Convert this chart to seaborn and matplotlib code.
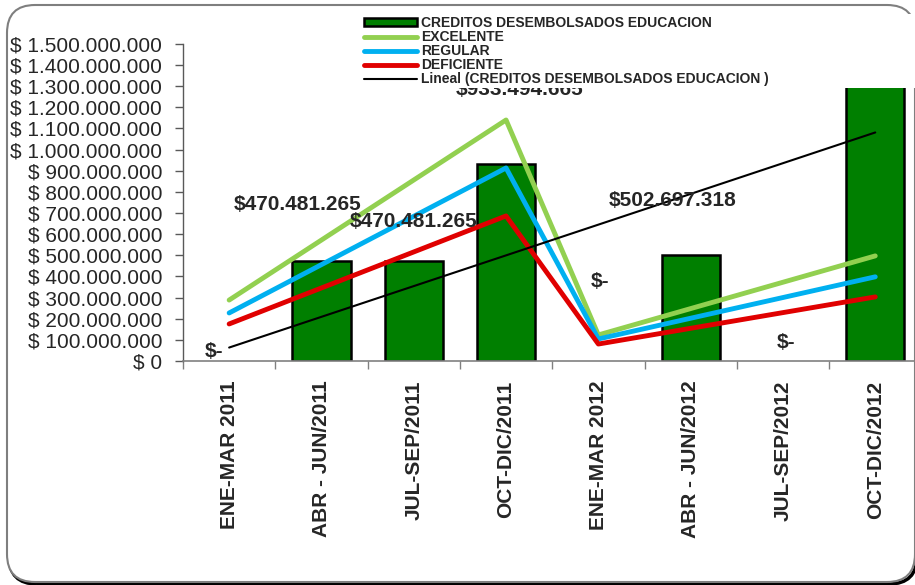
import numpy as np
import pandas as pd
import matplotlib.pyplot as plt
import seaborn as sns
from matplotlib.patches import FancyBboxPatch
from matplotlib.transforms import IdentityTransform
from matplotlib.ticker import FuncFormatter

# Chart data
periodos = ['ENE-MAR 2011', 'ABR - JUN/2011', 'JUL-SEP/2011', 'OCT-DIC/2011',
            'ENE-MAR 2012', 'ABR - JUN/2012', 'JUL-SEP/2012', 'OCT-DIC/2012']
creditos = [0, 470481265, 470481265, 933494665, 0, 502697318, 0, 2200000000]

# indicator lines only have points at these periods
idx_ind = [0, 3, 4, 7]
excelente = [288000000, 1140000000, 123000000, 497000000]
regular = [227000000, 913000000, 104000000, 398000000]
deficiente = [175000000, 686000000, 80000000, 303000000]

# data labels as shown (text, x, y)
etiquetas = ['$-', '$470.481.265', '$470.481.265', '$933.494.665',
             '$-', '$502.697.318', '$-']
etiq_x = [-0.16, 0.74, 2.0, 3.15, 4.02, 4.8, 6.03]
etiq_y = [47000000, 738000000, 658000000, 1285000000, 374000000, 757000000, 85000000]

sns.set_style('white')
plt.rcParams['font.family'] = ['Liberation Sans', 'DejaVu Sans']

fig = plt.figure(figsize=(9.15, 5.85), dpi=100)

# rounded frame around the whole chart
shadow = FancyBboxPatch((9, 1), 908, 577, boxstyle='round,pad=0,rounding_size=28',
                        transform=IdentityTransform(), facecolor='none',
                        edgecolor='black', lw=2.5, zorder=0)
frame = FancyBboxPatch((7, 3), 908, 577, boxstyle='round,pad=0,rounding_size=28',
                       transform=IdentityTransform(), facecolor='white',
                       edgecolor='#7f7f7f', lw=1.5, zorder=0)
fig.patches.extend([shadow, frame])

ax = fig.add_axes([0.2, 0.383, 0.807, 0.542])
ax.set_zorder(2)
ax.patch.set_alpha(0)

df = pd.DataFrame({'periodo': periodos, 'creditos': creditos})
sns.barplot(data=df, x='periodo', y='creditos', color='#007f00', saturation=1,
            width=0.63, edgecolor='black', linewidth=1.8,
            label='CREDITOS DESEMBOLSADOS EDUCACION', ax=ax)

sns.lineplot(x=idx_ind, y=excelente, color='#92d050', lw=3.5, label='EXCELENTE', ax=ax)
sns.lineplot(x=idx_ind, y=regular, color='#00b0f0', lw=3.5, label='REGULAR', ax=ax)
sns.lineplot(x=idx_ind, y=deficiente, color='#e00000', lw=3.5, label='DEFICIENTE', ax=ax)
sns.regplot(x=np.arange(len(creditos)), y=np.array(creditos, dtype=float), scatter=False,
            ci=None, truncate=True, color='black', line_kws={'lw': 1.5},
            label='Lineal (CREDITOS DESEMBOLSADOS EDUCACION )', ax=ax)

for t, x, y in zip(etiquetas, etiq_x, etiq_y):
    ax.text(x, y, t, ha='center', va='center', fontsize=15, fontweight='bold', zorder=3)

ax.set_xlim(-0.5, 7.5)
ax.set_ylim(0, 1500000000)
ax.set_yticks(np.arange(0, 1500000001, 100000000))


def fmt_peso(v, pos):
    if v == 0:
        return '$ 0'
    return '$ ' + f'{int(v):,}'.replace(',', '.')


ax.yaxis.set_major_formatter(FuncFormatter(fmt_peso))
ax.tick_params(axis='y', labelsize=15, length=6, width=1, color='#595959',
               direction='out', pad=9, left=True)
ax.set_xticks(range(len(periodos)))
ax.set_xticklabels(periodos, rotation=90, fontsize=15, fontweight='bold')
ax.set_xticks(np.arange(-0.5, 8, 1), minor=True)
ax.tick_params(axis='x', which='major', length=0, pad=14)
ax.tick_params(axis='x', which='minor', length=6, width=1, color='#808080',
               direction='out', bottom=True)
ax.set_xlabel('')
ax.set_ylabel('')

sns.despine(ax=ax)
ax.spines['left'].set_color('#595959')
ax.spines['bottom'].set_color('#808080')
ax.spines['left'].set_linewidth(1)
ax.spines['bottom'].set_linewidth(1.2)

# bars first in the legend, like the original
handles, labels = ax.get_legend_handles_labels()
orden = [labels.index('CREDITOS DESEMBOLSADOS EDUCACION')] + \
        [i for i, l in enumerate(labels) if l != 'CREDITOS DESEMBOLSADOS EDUCACION']
leg = ax.legend([handles[i] for i in orden], [labels[i] for i in orden],
                loc='upper left', bbox_to_anchor=(362 / 915, 1 - 90 / 585, 560 / 915, 76 / 585),
                bbox_transform=fig.transFigure, mode='expand', ncol=1,
                prop={'weight': 'bold', 'size': 10}, frameon=True, fancybox=False,
                borderpad=0.15, labelspacing=0.0, handlelength=3.8, handleheight=0.45,
                handletextpad=0.3, borderaxespad=0)
leg.get_frame().set_facecolor('white')
leg.get_frame().set_edgecolor('none')
leg.get_frame().set_alpha(1)
leg.set_zorder(5)

# empty bars show no outline
for p in ax.patches:
    if p.get_height() == 0:
        p.set_linewidth(0)

plt.savefig('out.png', dpi=100)
